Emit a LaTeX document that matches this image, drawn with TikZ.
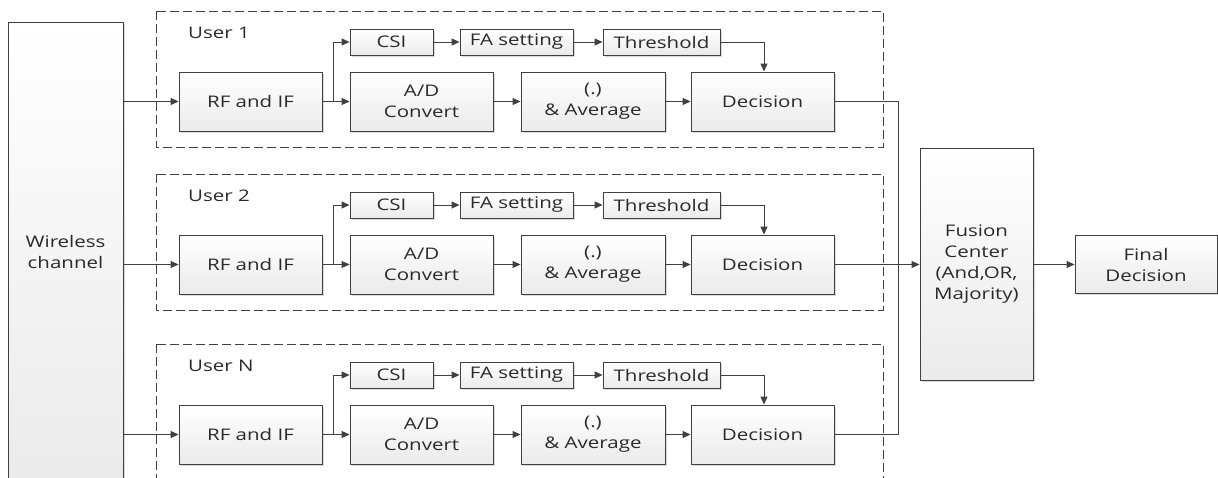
\documentclass[tikz,border=0pt]{standalone}
\usepackage{fontspec}
\setmainfont{Open Sans}[FakeStretch=1.28]
\usepackage{tikz}
\usetikzlibrary{calc}
\usetikzlibrary{arrows.meta,shapes,shadows}
\definecolor{edgegray}{HTML}{404040}
\definecolor{textgray}{HTML}{2A2A2A}
\tikzstyle{blk}=[draw=edgegray,line width=0.9pt,top color=white,bottom color=gray!16,
                drop shadow={shadow xshift=1.5pt,shadow yshift=-1.5pt,opacity=0.3},
                text=textgray,align=center,inner sep=0,minimum height=59pt,
                font=\fontsize{16}{21}\selectfont]
\tikzstyle{small blk}=[blk,minimum height=26pt]
\tikzstyle{usergroup}=[draw=edgegray,line width=0.8pt,dash pattern=on 9pt off 4pt]
\tikzstyle{arr}=[draw=edgegray,line width=0.9pt,-{Triangle[length=8pt,width=7pt]}]
\tikzstyle{wire}=[draw=edgegray,line width=0.9pt]

\begin{document}
\begin{tikzpicture}[x=1pt,y=-1pt]
\useasboundingbox (0,0) rectangle (1218,477);
% channel and fusion part
\node[blk,minimum width=115pt,minimum height=460pt] (wc) at (65.5,252) {Wireless\\channel};
\node[blk,minimum width=113pt,minimum height=232pt] (fc) at (976.5,264.5) {Fusion\\Center\\(And,OR,\\Majority)};
\node[blk,minimum width=142pt,minimum height=58pt] (fd) at (1146,264.5) {Final\\Decision};
% one dashed group per user
\foreach \u/\dy/\name in {1/0/1,2/163/2,3/333/N}
{
\draw[usergroup] (156,{11+\dy}) rectangle (883,{147+\dy});
\node[text=textgray,anchor=west,inner sep=0,font=\fontsize{16}{21}\selectfont] (lbl\u) at (188,{33+\dy}) {User \name};
\node[blk,minimum width=143pt] (rf\u) at (250.5,{101.5+\dy}) {RF and IF};
\node[small blk,minimum width=83pt] (csi\u) at (391.5,{42+\dy}) {CSI};
\node[blk,minimum width=143pt] (ad\u) at (421.5,{101.5+\dy}) {A/D\\Convert};
\node[small blk,minimum width=113pt] (fa\u) at (516.5,{42+\dy}) {FA setting};
\node[small blk,minimum width=117pt] (th\u) at (661.5,{42+\dy}) {Threshold};
\node[blk,minimum width=144pt] (avg\u) at (593,{101.5+\dy}) {(.)\\\& Average};
\node[blk,minimum width=143pt] (dec\u) at (762.5,{101.5+\dy}) {Decision};
\coordinate (sp\u) at ($(rf\u.east)+(11,0)$);
\draw[arr] (wc.east |- rf\u.west) -- (rf\u.west);
\draw[arr] (rf\u.east) -- (sp\u) |- (csi\u.west);
\draw[arr] (rf\u.east) -- (ad\u.west);
\draw[arr] (csi\u.east) -- (fa\u.west);
\draw[arr] (fa\u.east) -- (th\u.west);
\draw[arr] (ad\u.east) -- (avg\u.west);
\draw[arr] (avg\u.east) -- (dec\u.west);
\draw[arr] (th\u.east) -| ($(dec\u.north)+(1.5,0)$);
}
% decisions into the fusion center
\coordinate (bus) at (898,264.5);
\draw[wire] (dec1.east) -| (bus);
\draw[wire] (dec3.east) -| (bus);
\draw[arr] (dec2.east) -- (fc.west);
\draw[arr] (fc.east) -- (fd.west);
\end{tikzpicture}
\end{document}
